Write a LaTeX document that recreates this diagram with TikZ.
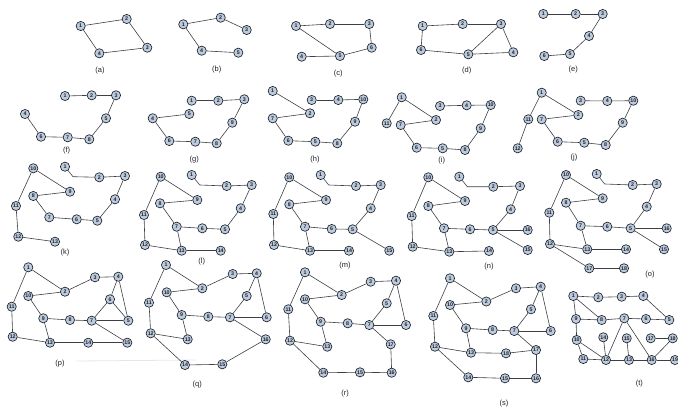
\documentclass[tikz,border=0pt]{standalone}
\usepackage{fontspec}
\setmainfont{Liberation Sans}
\usepackage{tikz}
\usetikzlibrary{calc}
\definecolor{ink}{HTML}{1E2228}
\definecolor{edgegray}{HTML}{3C3F44}
\definecolor{nodefill}{HTML}{BCCBDD}
\definecolor{faint}{HTML}{E4E6EA}
\tikzset{
  nd/.style={circle, draw=ink, line width=0.65pt, fill=nodefill, text=ink,
    inner sep=0pt, minimum size=9.2pt, font=\fontsize{5.3}{5.3}\selectfont\bfseries},
  ln/.style={draw=edgegray, line width=0.6pt},
  lbl/.style={font=\fontsize{7.5}{8}\selectfont, text=ink},
}

\begin{document}
\begin{tikzpicture}[x=1pt, y=-1pt]
  \useasboundingbox (0,0) rectangle (678,412);
  % (a)
  \foreach \n/\x/\y in {1/80.7/26, 2/126.7/19, 3/147.3/47.7, 4/99.3/53.3}
    \node[nd] (a\n) at (\x,\y) {\n};
  \foreach \u/\v in {1/2, 2/3, 3/4, 4/1} \draw[ln] (a\u) -- (a\v);
  \node[lbl] (la) at (100,70.7) {(a)};
  % (b)
  \foreach \n/\x/\y in {1/183.3/24.3, 2/220.7/17.7, 3/246.7/30, 4/201.7/50.7, 5/238.3/52.7}
    \node[nd] (b\n) at (\x,\y) {\n};
  \foreach \u/\v in {1/2, 2/3, 1/4, 4/5} \draw[ln] (b\u) -- (b\v);
  \node[lbl] (lb) at (216.7,69.3) {(b)};
  % (c)
  \foreach \n/\x/\y in {1/296/26, 2/330/24, 3/369.3/24, 6/371.7/47.7, 5/340/56, 4/301.7/56.7}
    \node[nd] (c\n) at (\x,\y) {\n};
  \foreach \u/\v in {1/2, 2/3, 3/6, 6/5, 5/1, 4/5} \draw[ln] (c\u) -- (c\v);
  \node[lbl] (lc) at (338.3,74) {(c)};
  % (d)
  \foreach \n/\x/\y in {1/422.7/26, 2/462.7/24, 3/501/24, 4/513.3/52.3, 5/468.3/54.3, 6/421/50}
    \node[nd] (d\n) at (\x,\y) {\n};
  \foreach \u/\v in {1/2, 2/3, 3/4, 4/5, 5/3, 5/6, 6/1} \draw[ln] (d\u) -- (d\v);
  \node[lbl] (ld) at (466.7,70.7) {(d)};
  % (e)
  \foreach \n/\x/\y in {1/543.3/14, 2/575.7/14, 3/602.7/14, 4/589/36, 5/570/54, 6/544.3/56}
    \node[nd] (e\n) at (\x,\y) {\n};
  \foreach \u/\v in {1/2, 2/3, 3/4, 4/5, 5/6} \draw[ln] (e\u) -- (e\v);
  \node[lbl] (le) at (573.3,70) {(e)};
  % (f)
  \foreach \n/\x/\y in {1/65/96, 2/91.7/95.3, 3/116/95.3, 4/25/114, 5/106/118.3,
      6/41/136.7, 7/67.7/137.3, 8/89.3/139.3}
    \node[nd] (f\n) at (\x,\y) {\n};
  \foreach \u/\v in {1/2, 2/3, 3/5, 5/8, 8/7, 7/6, 6/4} \draw[ln] (f\u) -- (f\v);
  \node[lbl] (lf) at (66.7,151) {(f)};
  % (g)
  \foreach \n/\x/\y in {1/191.7/100.7, 2/218.3/100.7, 3/244.3/99.3, 4/152.7/118.3, 5/189.3/114,
      9/232.3/122.7, 6/169.3/141, 7/195.3/141.7, 8/216.7/143.3}
    \node[nd] (g\n) at (\x,\y) {\n};
  \foreach \u/\v in {1/2, 2/3, 3/9, 9/8, 8/7, 7/6, 6/4, 4/5} \draw[ln] (g\u) -- (g\v);
  \node[lbl] (lg) at (194.3,160) {(g)};
  % (h)
  \foreach \n/\x/\y in {1/272.7/91, 2/310/113.3, 3/311.7/100, 4/338.3/100, 10/363.3/99.3,
      9/355/121.7, 8/337.3/143.3, 5/315.3/141.7, 6/288.3/140.7, 7/272.7/118.3}
    \node[nd] (h\n) at (\x,\y) {\n};
  \foreach \u/\v in {1/2, 2/7, 7/6, 6/5, 5/8, 8/9, 9/10, 10/4, 4/3} \draw[ln] (h\u) -- (h\v);
  \node[lbl] (lh) at (315,160) {(h)};
  % (i)
  \foreach \n/\x/\y in {1/401.7/97.3, 2/436/120, 11/386.7/123.3, 7/400.7/125, 3/440/106,
      4/466.7/105.3, 10/490.7/105, 9/480.7/128.3, 8/465/150, 5/442.7/148.3, 6/416.7/147.7}
    \node[nd] (i\n) at (\x,\y) {\n};
  \foreach \u/\v in {1/11, 1/2, 2/7, 7/6, 6/5, 5/8, 8/9, 9/10, 10/4, 4/3} \draw[ln] (i\u) -- (i\v);
  \node[lbl] (li) at (441.7,160.7) {(i)};
  % (j)
  \foreach \n/\x/\y in {1/541.7/92.7, 11/528.3/119.3, 12/517.7/148.3, 2/578.3/115, 7/541.7/119.3,
      3/580.7/100.7, 4/607.3/101, 10/633.3/100.7, 9/622.7/122.7, 8/605.7/145, 5/584.3/142.7, 6/557.7/141.7}
    \node[nd] (j\n) at (\x,\y) {\n};
  \foreach \u/\v in {1/11, 11/12, 1/2, 2/7, 7/6, 6/5, 5/8, 8/9, 9/10, 10/4, 4/3} \draw[ln] (j\u) -- (j\v);
  \node[lbl] (lj) at (574,157.3) {(j)};
  % (k)
  \foreach \n/\x/\y in {10/33.3/168.3, 9/70/191.7, 1/65/166.7, 2/99.3/177.3, 3/125/176, 4/115/199.3,
      5/97.3/220.7, 6/76.7/219.3, 7/49.3/217.3, 8/33.3/196, 11/16/206, 12/18.3/236.7, 13/55/241.7}
    \node[nd] (k\n) at (\x,\y) {\n};
  \foreach \u/\v in {10/9, 10/11, 11/12, 12/13, 9/8, 8/7, 7/6, 6/5, 5/4, 4/3, 3/2} \draw[ln] (k\u) -- (k\v);
  \draw[ln] (k1) -- ++(8,10) -- (k2);
  \node[lbl] (lk) at (65,252.7) {(k)};
  % (l)
  \foreach \n/\x/\y in {10/160.7/176.7, 1/191.7/175, 2/226.7/186, 3/251.7/185, 4/240.7/208.3,
      5/225/229.3, 6/202.3/228.3, 7/176.7/226.7, 8/160/203.3, 9/197.3/200, 11/144/215,
      12/145/245, 13/181.7/250.7, 14/220.7/250.7}
    \node[nd] (l\n) at (\x,\y) {\n};
  \foreach \u/\v in {10/9, 10/11, 11/12, 12/13, 13/14, 13/7, 9/8, 8/7, 7/6, 6/5, 5/4, 4/3, 3/2}
    \draw[ln] (l\u) -- (l\v);
  \draw[ln] (l1) -- ++(8,10) -- (l2);
  \node[lbl] (ll) at (201.7,261.7) {(l)};
  % (m)
  \foreach \n/\x/\y in {10/289.3/177.3, 1/320.7/175, 2/356/186, 3/380.7/185, 4/370.7/208.3,
      5/352.7/229.3, 6/331.7/229, 7/305/226.7, 8/289.3/204.3, 9/326/200, 11/273.3/214,
      12/274/245, 13/310/250.7, 14/349/250.7, 15/389.3/250.7}
    \node[nd] (m\n) at (\x,\y) {\n};
  \foreach \u/\v in {10/9, 10/11, 11/12, 12/13, 13/14, 13/7, 9/8, 8/7, 7/6, 6/5, 5/4, 4/3, 3/2, 5/15}
    \draw[ln] (m\u) -- (m\v);
  \draw[ln] (m1) -- ++(8,10) -- (m2);
  \node[lbl] (lm) at (345,266) {(m)};
  % (n)
  \foreach \n/\x/\y in {10/428.3/177.3, 1/459.3/176.7, 2/493.3/186.7, 3/520/186, 4/510.7/209.3,
      5/493/230, 6/470/229.3, 7/444/228.3, 8/428.3/206, 9/465/201, 11/411.7/216,
      12/412.7/246.7, 13/449.3/251.7, 14/489/251, 15/527.7/250, 16/527.7/230}
    \node[nd] (n\n) at (\x,\y) {\n};
  \foreach \u/\v in {10/9, 10/11, 11/12, 12/13, 13/14, 13/7, 9/8, 8/7, 7/6, 6/5, 5/4, 4/3, 3/2,
      5/15, 5/16}
    \draw[ln] (n\u) -- (n\v);
  \draw[ln] (n1) -- ++(8,10) -- (n2);
  \node[lbl] (ln) at (489,267) {(n)};
  % (o)
  \foreach \n/\x/\y in {10/566/175, 1/596.7/174, 2/632.7/185, 3/656.7/184, 4/646.7/206.7,
      5/630.7/228.3, 16/666.7/228.3, 6/607.3/226.7, 7/580.7/225.7, 8/566/202.7, 9/602.7/198.3,
      11/549.3/212.7, 12/550/244, 13/587.3/249.3, 14/626/249.3, 15/664/249.3,
      17/589.3/268.3, 18/624/268.3}
    \node[nd] (o\n) at (\x,\y) {\n};
  \foreach \u/\v in {10/9, 10/11, 11/12, 12/13, 13/14, 13/7, 9/8, 8/7, 7/6, 6/5, 5/4, 4/3, 3/2,
      5/15, 5/16, 12/17, 17/18}
    \draw[ln] (o\u) -- (o\v);
  \draw[ln] (o1) -- ++(8,10) -- (o2);
  \node[lbl] (lo) at (650,275) {(o)};
  % (p)
  \foreach \n/\x/\y in {1/28.3/267.3, 2/65/291.7, 3/95/277.3, 4/118.3/276.7, 6/110/299.3,
      5/128.3/320.7, 7/91.7/320.7, 8/70/320, 9/43.3/318.3, 10/28.3/296, 11/11.7/306.7,
      12/12.7/336.7, 13/50/342.7, 14/88.3/342.7, 15/127.3/342.7}
    \node[nd] (p\n) at (\x,\y) {\n};
  \foreach \u/\v in {1/2, 2/3, 3/4, 4/6, 6/7, 6/5, 4/5, 5/7, 7/8, 8/9, 9/10, 10/2, 1/11, 11/12,
      12/13, 13/14, 14/15, 9/13, 7/15}
    \draw[ln] (p\u) -- (p\v);
  \node[lbl] (lp) at (60,363.3) {(p)};
  \draw[faint, line width=0.8pt] (76.7,361) -- (196.7,360);
  % (q)
  \foreach \n/\x/\y in {1/166/265, 2/202.3/288.3, 3/232.7/274, 4/256.7/273.3, 5/246.7/296,
      6/266.7/317.3, 7/230/317.3, 8/208.3/316.7, 9/181.7/315, 10/166.7/292.3, 11/149/302.7,
      12/150.7/333.3, 13/187.7/339.3, 14/185/365, 15/222.3/364.3, 16/265.7/339.3}
    \node[nd] (q\n) at (\x,\y) {\n};
  \foreach \u/\v in {1/2, 2/3, 3/4, 4/5, 5/7, 4/6, 6/7, 7/8, 8/9, 9/10, 10/2, 9/13, 13/12,
      12/11, 11/1, 12/14, 14/15, 15/16, 16/7}
    \draw[ln] (q\u) -- (q\v);
  \node[lbl] (lq) at (197.3,385) {(q)};
  % (r)
  \foreach \n/\x/\y in {1/305/272.3, 2/341.7/295, 3/370.7/281.7, 4/396/280.7, 5/386.7/303.3,
      6/406/325, 7/369.3/325, 8/347.7/323.3, 9/320.7/321.7, 10/305/299.3, 11/288.3/309.3,
      12/290/340.7, 13/327.3/346.7, 14/323.3/372.7, 15/360/372.3, 16/391.7/372.7, 17/390.7/344.3}
    \node[nd] (r\n) at (\x,\y) {\n};
  \foreach \u/\v in {1/2, 2/3, 3/4, 4/5, 5/7, 4/6, 6/7, 7/8, 8/9, 9/10, 10/2, 9/13, 13/12,
      12/11, 11/1, 12/14, 14/15, 15/16, 16/17, 17/7}
    \draw[ln] (r\u) -- (r\v);
  \node[lbl] (lr) at (345,393.3) {(r)};
  % (s)
  \foreach \n/\x/\y in {1/450/278.3, 2/486.3/301.5, 3/516/288.3, 4/540.7/286.7, 5/531/309.3,
      6/550.7/331, 7/514.3/331, 8/492.7/330, 9/466/328.3, 10/450/305, 11/433.3/316,
      12/435/346.7, 13/471/352.7, 14/468.3/377.3, 15/505/378.3, 16/536/378.3,
      17/536/350, 18/506/353.3}
    \node[nd] (s\n) at (\x,\y) {\n};
  \foreach \u/\v in {1/2, 2/3, 3/4, 4/5, 5/7, 4/6, 6/7, 7/8, 8/9, 9/10, 10/2, 9/13, 13/12,
      12/11, 11/1, 12/14, 14/15, 15/16, 16/17, 17/7, 17/18, 18/13}
    \draw[ln] (s\u) -- (s\v);
  \node[lbl] (ls) at (504,404) {(s)};
  % (t)
  \foreach \n/\x/\y in {1/573.3/296, 2/598.3/297.3, 3/621.7/296.7, 4/643.3/296, 5/669.3/320,
      6/646/319, 7/624.3/318.3, 8/601.7/320, 9/576/319, 10/576.7/340, 11/583.3/359,
      12/606/360, 13/629/360, 14/603.3/337.3, 15/626.7/338.3, 16/651.7/360,
      17/650.7/338.3, 18/672.7/338.3, 19/675/360}
    \node[nd] (t\n) at (\x,\y) {\n};
  \foreach \u/\v in {1/2, 2/3, 3/4, 4/5, 5/6, 6/7, 7/8, 8/9, 1/8, 1/9, 9/10, 10/11, 10/12,
      11/12, 12/13, 13/16, 16/19, 14/12, 15/13, 7/12, 7/16, 16/18, 17/18}
    \draw[ln] (t\u) -- (t\v);
  \node[lbl] (lt) at (639.3,383.3) {(t)};
\end{tikzpicture}
\end{document}
